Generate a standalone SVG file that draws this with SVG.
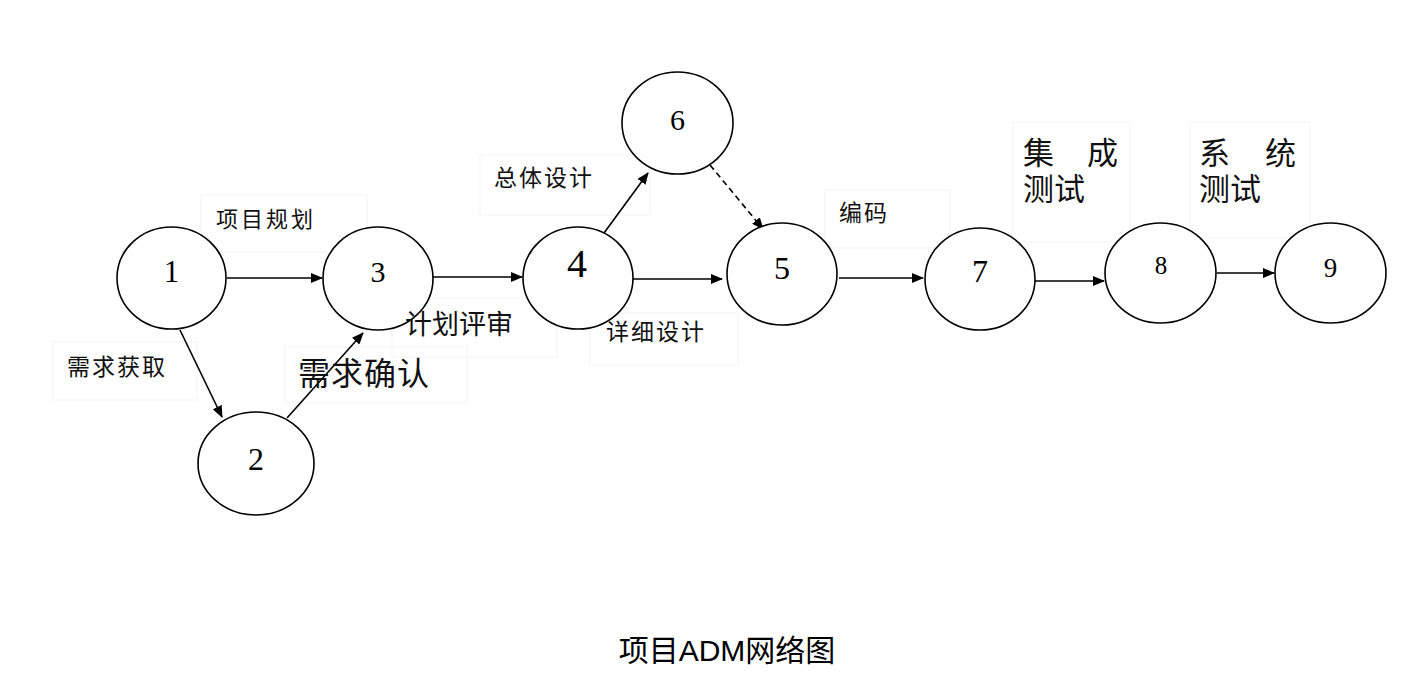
<svg xmlns="http://www.w3.org/2000/svg" width="1417" height="687" viewBox="0 0 1417 687">
<style>
.node ellipse{fill:#fff;stroke:#000;stroke-width:1.6}
.num{font-family:"Liberation Serif",serif;fill:#000;text-anchor:middle}
.lbl{font-family:"Noto Sans CJK SC",sans-serif;fill:#111}
.box{fill:none;stroke:#f3f3f3;stroke-width:1}
.conn line{stroke:#000;stroke-width:1.6;marker-end:url(#ah)}
.conn line.dash{stroke-dasharray:6 4}
</style>
<defs>
<marker id="ah" markerUnits="userSpaceOnUse" markerWidth="12" markerHeight="10" refX="11" refY="5" orient="auto">
<path d="M0,0 L12,5 L0,10 Z" fill="#000"/>
</marker>
</defs>
<rect width="1417" height="687" fill="#fff"/>
<g id="label-boxes">
<rect class="box" x="201" y="195" width="166" height="57"/>
<rect class="box" x="53" y="342" width="144" height="58"/>
<rect class="box" x="285" y="347" width="182" height="56"/>
<rect class="box" x="392" y="298" width="165" height="59"/>
<rect class="box" x="480" y="155" width="170" height="60"/>
<rect class="box" x="590" y="313" width="148" height="52"/>
<rect class="box" x="825" y="190" width="125" height="58"/>
<rect class="box" x="1013" y="122" width="117" height="120"/>
<rect class="box" x="1190" y="122" width="120" height="116"/>
</g>
<g id="connectors" class="conn">
<line x1="227" y1="278" x2="322" y2="278"/>
<line x1="180" y1="330" x2="222" y2="417"/>
<line x1="287" y1="418" x2="363" y2="333"/>
<line x1="433" y1="277" x2="522" y2="277"/>
<line x1="604" y1="233" x2="648" y2="173"/>
<line x1="633" y1="279" x2="722" y2="279"/>
<line class="dash" x1="710" y1="165" x2="763" y2="229"/>
<line x1="839" y1="278" x2="923" y2="278"/>
<line x1="1035" y1="281" x2="1104" y2="281"/>
<line x1="1217" y1="273" x2="1274" y2="273"/>
</g>
<g id="node1" class="node"><ellipse cx="171.5" cy="278" rx="54.5" ry="51"/><text class="num" x="171.5" y="282" font-size="31">1</text></g>
<g id="node2" class="node"><ellipse cx="256" cy="463.5" rx="58" ry="51.5"/><text class="num" x="256" y="470" font-size="32">2</text></g>
<g id="node3" class="node"><ellipse cx="378" cy="278.5" rx="55" ry="51.5"/><text class="num" x="378" y="282" font-size="30">3</text></g>
<g id="node4" class="node"><ellipse cx="578" cy="278" rx="55" ry="51"/><text class="num" x="577" y="277" font-size="40">4</text></g>
<g id="node6" class="node"><ellipse cx="677.5" cy="123" rx="55.5" ry="51"/><text class="num" x="677.5" y="130" font-size="30">6</text></g>
<g id="node5" class="node"><ellipse cx="782" cy="274" rx="55" ry="51"/><text class="num" x="782" y="279" font-size="32">5</text></g>
<g id="node7" class="node"><ellipse cx="980" cy="279" rx="55" ry="51"/><text class="num" x="980" y="282" font-size="32">7</text></g>
<g id="node8" class="node"><ellipse cx="1160.5" cy="273" rx="55.5" ry="50"/><text class="num" x="1161" y="274" font-size="25">8</text></g>
<g id="node9" class="node"><ellipse cx="1330.5" cy="273" rx="55.5" ry="50"/><text class="num" x="1330.5" y="277" font-size="27">9</text></g>
<g id="labels">
<text id="l-13" class="lbl" x="216" y="227" font-size="22" letter-spacing="3">项目规划</text>
<text id="l-12" class="lbl" x="67" y="375" font-size="23" letter-spacing="2">需求获取</text>
<text id="l-23" class="lbl" x="298" y="385" font-size="32" letter-spacing="1">需求确认</text>
<text id="l-34" class="lbl" x="405" y="334" font-size="27">计划评审</text>
<text id="l-46" class="lbl" x="494" y="186" font-size="23" letter-spacing="2">总体设计</text>
<text id="l-45" class="lbl" x="606" y="340" font-size="23" letter-spacing="2">详细设计</text>
<text id="l-57" class="lbl" x="839" y="221" font-size="23" letter-spacing="2">编码</text>
<text id="l-78" class="lbl" font-size="31"><tspan x="1023" y="164" word-spacing="26">集 成</tspan><tspan x="1023" y="200">测试</tspan></text>
<text id="l-89" class="lbl" font-size="31"><tspan x="1199" y="164" word-spacing="28">系 统</tspan><tspan x="1199" y="200">测试</tspan></text>
</g>
<text id="caption" x="727" y="661" font-size="30" text-anchor="middle" font-family="'Liberation Sans','Noto Sans CJK SC',sans-serif" fill="#000">项目ADM网络图</text>
</svg>
